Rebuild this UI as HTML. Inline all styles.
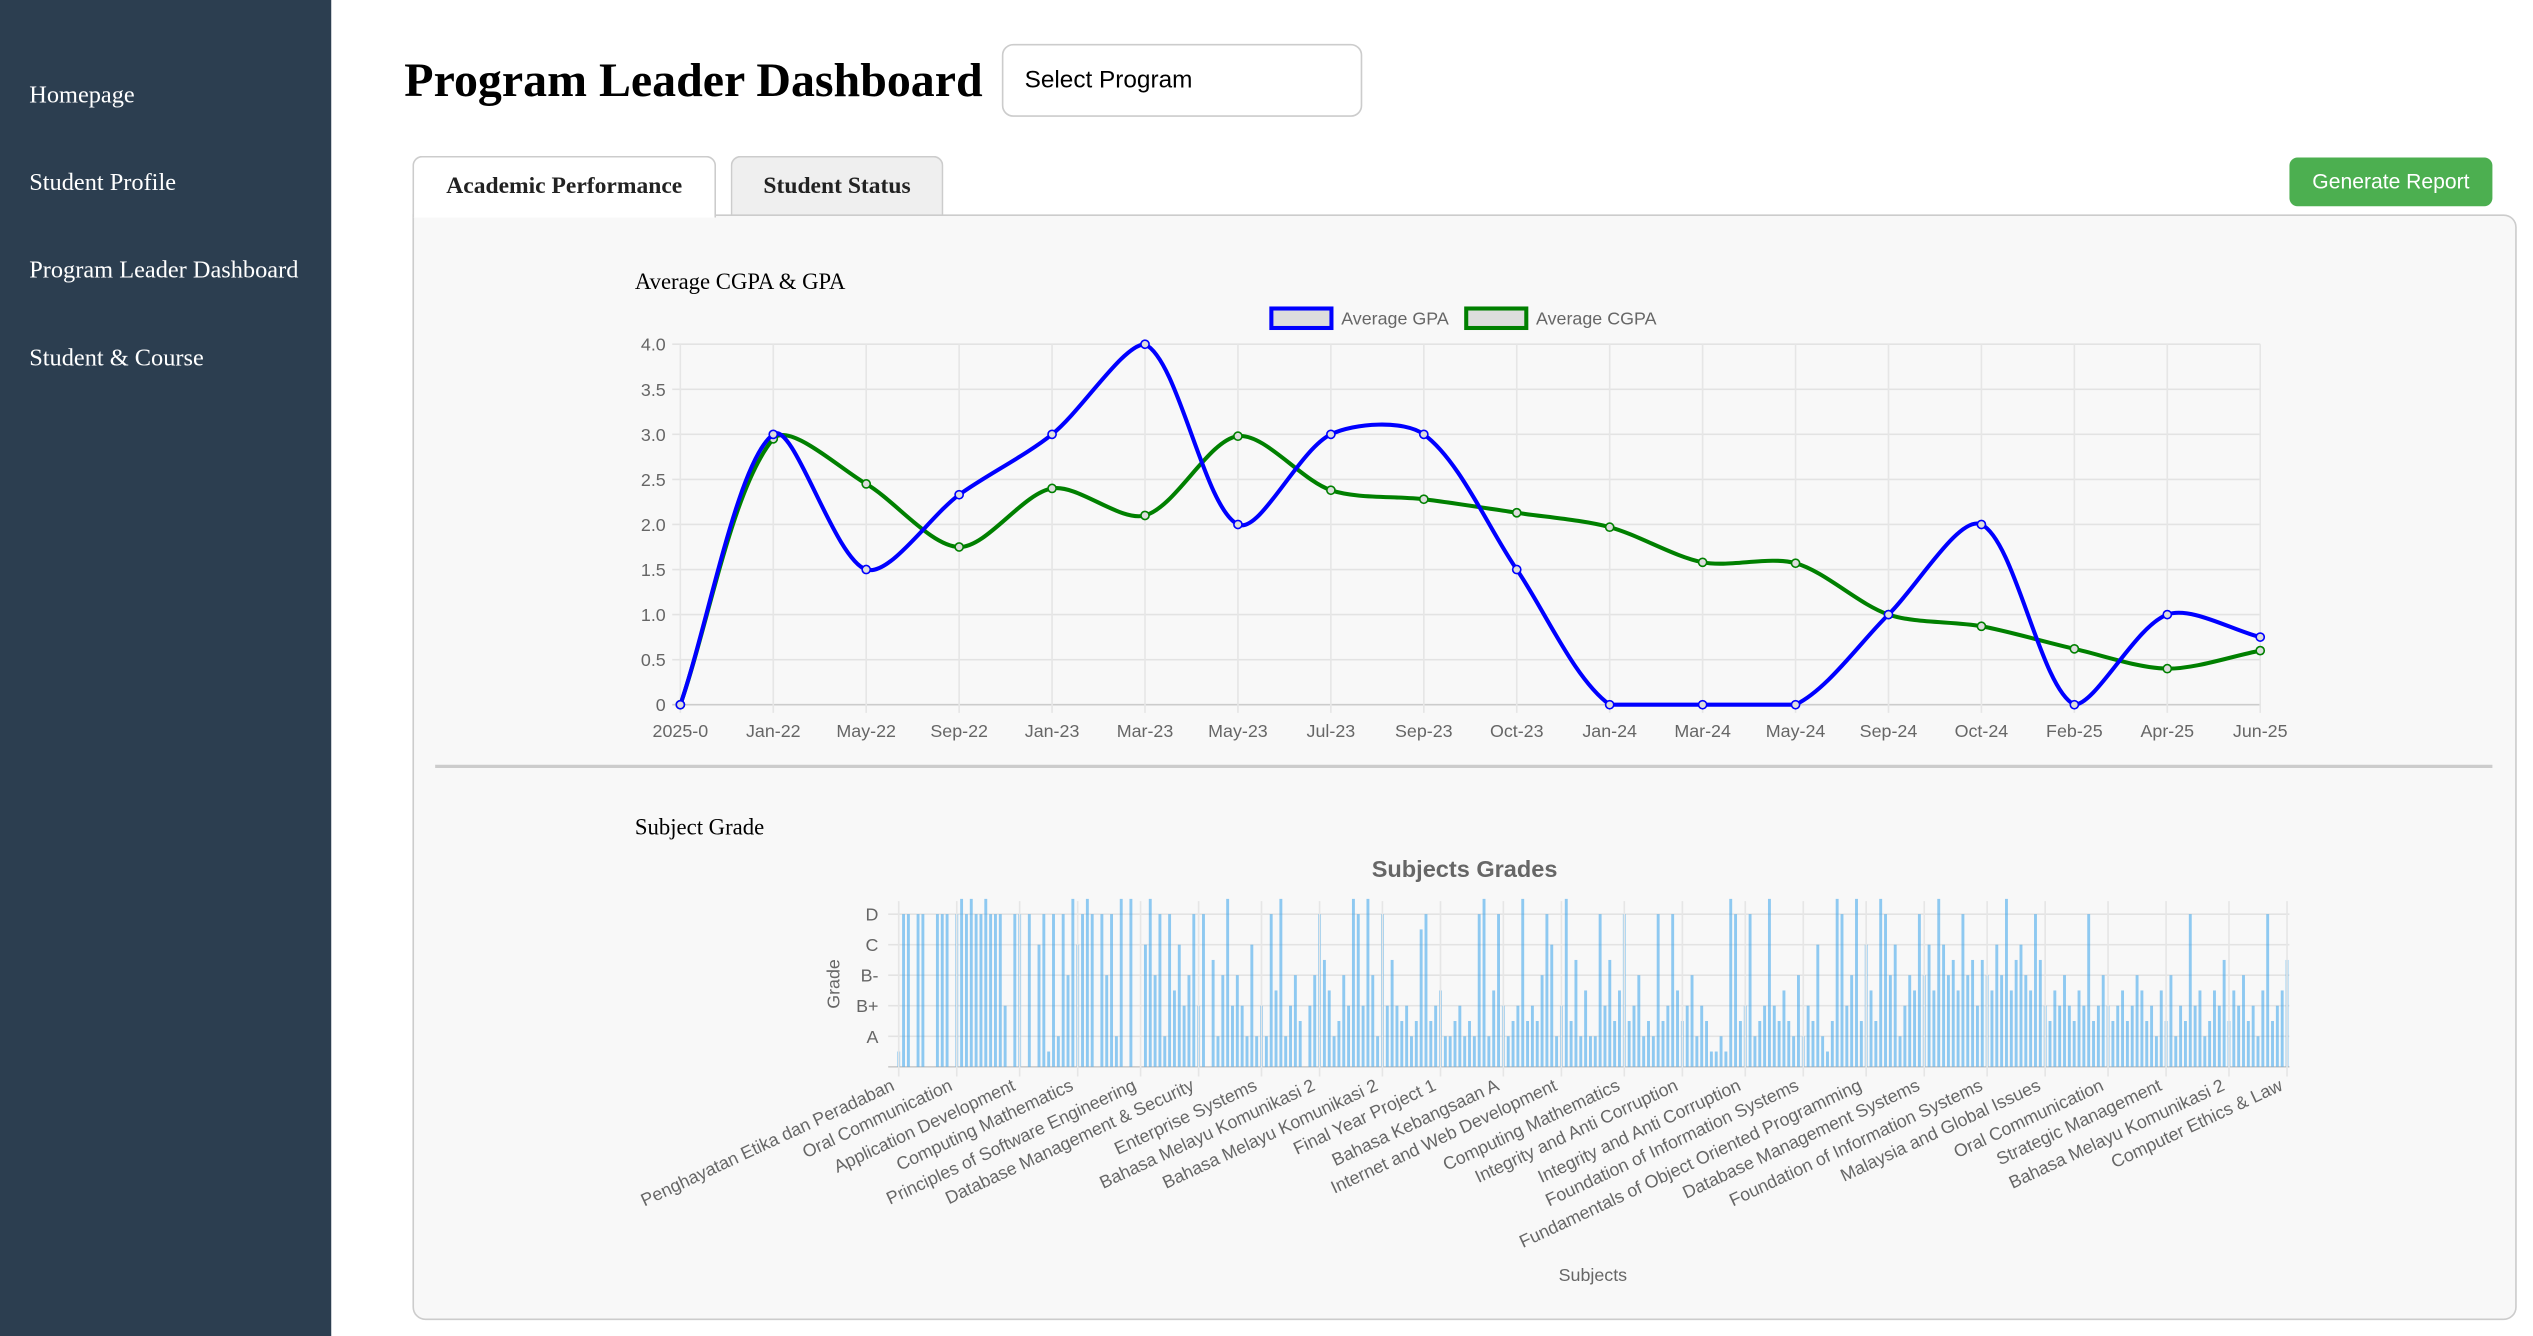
<!DOCTYPE html>
<html><head><meta charset="utf-8">
<style>
html,body{margin:0;padding:0;background:#fff;overflow:hidden;width:2533px;height:1330px}
#wrap{position:absolute;left:0;top:0;width:1560px;height:819px;transform:scale(1.62372);transform-origin:0 0;font-family:"Liberation Serif",serif}
.side{position:absolute;left:0;top:0;width:204px;height:823px;background:#2c3e50}
.nav{position:absolute;left:18px;color:#fff;font-size:15px;line-height:18px}
h1{position:absolute;left:249px;top:32px;margin:0;font-size:29.5px;font-weight:bold;line-height:36px;color:#000}
.sel{position:absolute;left:617px;top:27px;width:222px;height:45px;border:1px solid #ccc;border-radius:7px;box-sizing:border-box;font-family:"Liberation Sans",sans-serif;font-size:15px;line-height:43px;padding-left:13px;background:#fff}
.tab{position:absolute;top:96px;height:37px;box-sizing:border-box;border:1px solid #ccc;border-bottom:none;border-radius:6px 6px 0 0;font-weight:bold;font-size:14.5px;line-height:36px;text-align:center;color:#222}
.btn{position:absolute;left:1410px;top:97px;width:125px;height:30px;background:#4caf50;border-radius:5px;color:#fff;font-family:"Liberation Sans",sans-serif;font-size:13px;line-height:30px;text-align:center}
.panel{position:absolute;left:254px;top:132px;width:1296px;height:681px;box-sizing:border-box;border:1px solid #ccc;border-radius:0 8px 8px 8px;background:#f8f8f8}
svg text{font-family:"Liberation Sans",sans-serif}
</style></head><body>
<div id="wrap">
<div class="side">
<div class="nav" style="top:50px">Homepage</div>
<div class="nav" style="top:104px">Student Profile</div>
<div class="nav" style="top:158px">Program Leader Dashboard</div>
<div class="nav" style="top:212px">Student &amp; Course</div>
</div>
<h1>Program Leader Dashboard</h1>
<div class="sel">Select Program</div>
<div class="tab" style="left:254px;width:187px;background:#fff;height:38px;z-index:2">Academic Performance</div>
<div class="tab" style="left:450px;width:131px;background:#efefef">Student Status</div>
<div class="btn">Generate Report</div>
<div class="panel"></div>
<svg id="chart" width="1560" height="819" style="position:absolute;left:0;top:0">
<text x="391" y="178" style="font-family:'Liberation Serif',serif" font-size="14" fill="#000">Average CGPA &amp; GPA</text>
<line x1="268" y1="472" x2="1535" y2="472" stroke="#ccc" stroke-width="2"/>
<text x="391" y="514" style="font-family:'Liberation Serif',serif" font-size="14" fill="#000">Subject Grade</text>
<g id="line"></g><g id="bar"></g>
</svg>
</div>
<script>
const months=["2025-0","Jan-22","May-22","Sep-22","Jan-23","Mar-23","May-23","Jul-23","Sep-23","Oct-23","Jan-24","Mar-24","May-24","Sep-24","Oct-24","Feb-25","Apr-25","Jun-25"];
const gpa=[0,3,1.5,2.33,3,4,2,3,3,1.5,0,0,0,1,2,0,1,0.75];
const cgpa=[0,2.95,2.45,1.75,2.4,2.1,2.98,2.38,2.28,2.13,1.97,1.58,1.57,1.0,0.87,0.62,0.4,0.6];
const yTicks=[0,0.5,1,1.5,2,2.5,3,3.5,4];
const subjects=["Penghayatan Etika dan Peradaban","Oral Communication","Application Development","Computing Mathematics","Principles of Software Engineering","Database Management & Security","Enterprise Systems","Bahasa Melayu Komunikasi 2","Bahasa Melayu Komunikasi 2","Final Year Project 1","Bahasa Kebangsaan A","Internet and Web Development","Computing Mathematics","Integrity and Anti Corruption","Integrity and Anti Corruption","Foundation of Information Systems","Fundamentals of Object Oriented Programming","Database Management Systems","Foundation of Information Systems","Malaysia and Global Issues","Oral Communication","Strategic Management","Bahasa Melayu Komunikasi 2","Computer Ethics & Law"];
const gradeLabels=["A","B+","B-","C","D"];
const grades=[
0.5,5,5,0,5,5,0,0,5,5,5,0,
5,5.5,5,5.5,5,5,5.5,5,5,5,2,0,
5,5,0,5,0,4,5,0.5,5,1,5,3,
5.5,4,5,5.5,5,0,5,3,5,1,5.5,0,
5.5,0,0,4,5.5,3,5,1,5,2.5,4,2,
3,5,2,5,0,3.5,1,3,5.5,2,3,2,
1,4,1,2,1,5,2.5,5.5,1,2,3,1.5,
0,2,3,5,3.5,2.5,1,1.5,3,2,5.5,5,
2,5.5,3,1,5,2,3.5,2,1.5,2,1,1.5,
4.5,5,1.5,2,2.5,1,1,1.5,2,1,1.5,1,
5,5.5,1,2.5,5,2,1,1.5,2,5.5,1.5,2,
1.5,3,5,4,1,2,5.5,1.5,3.5,1,2.5,1,
1,5,2,3.5,1.5,2.5,5,1.5,2,3,1,1.5,
1,5,1.5,2,5,2.5,1.5,2,3,1,2,1.5,
0.5,0.5,1,0.5,5.5,5,1.5,2,5,1,1.5,2,
5.5,2,1.5,2.5,1.5,1,3,1,2,1.5,4,1,
0.5,1.5,5.5,5,2,3,5.5,1.5,4,2.5,1.5,5.5,
5,3,4,1,2,3,2.5,5,3,4,2.5,5.5,
4,3,3.5,2.5,5,3,3.5,2,3.5,3,2.5,4,
3,5.5,2.5,3.5,4,3,2.5,5,3.5,2,1.5,2.5,
2,3,2,1.5,2.5,2,5,1.5,2,3,2,1.5,
2,2.5,1.5,2,3,2.5,1.5,2,1,2.5,1.5,3,
1,2,1.5,5,2,2.5,1,1.5,2.5,2,3.5,1.5,
2.5,2,3,1.5,2,1,2.5,5,1.5,2,2.5,3.5];
const NS='http://www.w3.org/2000/svg';
function mk(tag,attrs,parent,txt){const e=document.createElementNS(NS,tag);for(const k in attrs)e.setAttribute(k,attrs[k]);if(txt!==undefined)e.textContent=txt;parent.appendChild(e);return e;}
// ---- line chart
const L=document.getElementById('line');
const x0=419,x1=1392,yb=434,yt=212;
const xL=i=>x0+i*(x1-x0)/(months.length-1);
const yL=v=>yb-(v/4)*(yb-yt);
yTicks.forEach(t=>{
 const g=mk('line',{x1:x0-5,x2:x1,y1:yL(t),y2:yL(t),stroke:t==0?'#ccc':'#e3e3e3','stroke-width':1},L);
 
 const tx=mk('text',{x:x0-9,y:yL(t)+4,'text-anchor':'end','font-size':11,fill:'#666'},L,t==0?'0':t.toFixed(1));
 
});
months.forEach((m,i)=>{
 const g=mk('line',{x1:xL(i),x2:xL(i),y1:yt,y2:yb+5,stroke:'#e6e6e6','stroke-width':1},L);
 
 const tx=mk('text',{x:xL(i),y:454,'text-anchor':'middle','font-size':11,fill:'#666'},L,m);
 
});
function spline(vals){
 const p=vals.map((v,i)=>[xL(i),yL(v)]);const t=0.3;let d='M'+p[0][0]+','+p[0][1];
 const cp=p.map((c,i)=>{const pr=p[Math.max(0,i-1)],nx=p[Math.min(p.length-1,i+1)];
  const d01=Math.hypot(c[0]-pr[0],c[1]-pr[1]),d12=Math.hypot(nx[0]-c[0],nx[1]-c[1]);
  let fa=d01/(d01+d12)||0,fb=d12/(d01+d12)||0;fa*=t;fb*=t;
  return {p:[c[0]-fa*(nx[0]-pr[0]),Math.min(yb,Math.max(yt,c[1]-fa*(nx[1]-pr[1])))],n:[c[0]+fb*(nx[0]-pr[0]),Math.min(yb,Math.max(yt,c[1]+fb*(nx[1]-pr[1])))]};});
 for(let i=1;i<p.length;i++)d+=' C'+cp[i-1].n[0]+','+cp[i-1].n[1]+' '+cp[i].p[0]+','+cp[i].p[1]+' '+p[i][0]+','+p[i][1];
 return d;}
[[cgpa,'#008000','cgpa'],[gpa,'#0000ff','gpa']].forEach(([vals,col,nm])=>{
 const pth=mk('path',{d:spline(vals),fill:'none',stroke:col,'stroke-width':2.5},L);
 
 vals.forEach((v,i)=>{const c=mk('circle',{cx:xL(i),cy:yL(v),r:2.5,fill:'#ddd',stroke:col,'stroke-width':1},L);
  });
});
[[782,'#0000ff','Average GPA','legend-gpa'],[902,'#008000','Average CGPA','legend-cgpa']].forEach(([x,col,lab,nm])=>{
 const r=mk('rect',{x:x+1,y:190,width:37,height:12,fill:'#ddd',stroke:col,'stroke-width':2.5},L);
 
 const tx=mk('text',{x:x+44,y:200,'font-size':11,fill:'#666'},L,lab);
 
});
// ---- bar chart
const B=document.getElementById('bar');
const bx0=552,bx1=1410,bb=657,step=18.8;
const band=(bx1-bx0)/grades.length;
const xB=i=>bx0+(i+0.5)*band;
const yB=v=>bb-v*step;
const bt=mk('text',{x:902,y:540,'text-anchor':'middle','font-size':14.5,'font-weight':'bold',fill:'#666'},B,'Subjects Grades');

gradeLabels.forEach((g,i)=>{
 const l=mk('line',{x1:bx0-5,x2:bx1,y1:yB(i+1),y2:yB(i+1),stroke:'#e3e3e3'},B);
 
 const tx=mk('text',{x:bx0-11,y:yB(i+1)+4,'text-anchor':'end','font-size':11,fill:'#666'},B,g);
 
});
const bl=mk('line',{x1:bx0-5,x2:bx1,y1:bb,y2:bb,stroke:'#ccc'},B);

grades.forEach((v,i)=>{if(v<=0)return;
 const r=mk('rect',{x:xB(i)-band*0.3,y:yB(v),width:band*0.6,height:bb-yB(v),fill:'rgba(54,162,235,0.55)'},B);
 
});
subjects.forEach((s,k)=>{
 const i=Math.round(k*(grades.length-1)/(subjects.length-1));const x=xB(i);
 const l=mk('line',{x1:x,x2:x,y1:555,y2:bb+6,stroke:'#e6e6e6'},B);
 
 const tx=mk('text',{x:x-2,y:bb+14,'text-anchor':'end','font-size':11,fill:'#666',transform:'rotate(-25 '+(x-2)+' '+(bb+14)+')'},B,s);
 
});
const ga=mk('text',{x:517,y:606,'text-anchor':'middle','font-size':11,fill:'#666',transform:'rotate(-90 517 606)'},B,'Grade');

const sa=mk('text',{x:981,y:789,'text-anchor':'middle','font-size':11,fill:'#666'},B,'Subjects');

</script>
</body></html>
